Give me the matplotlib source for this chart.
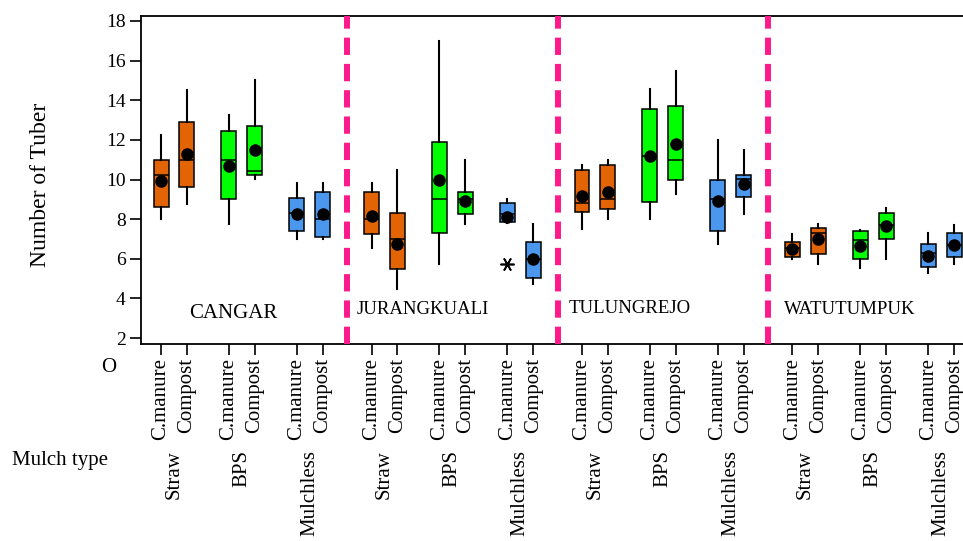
import numpy as np
import matplotlib
matplotlib.use("Agg")
import matplotlib.pyplot as plt

# données (ordre : lieu, paillage, engrais)
lieux = ["CANGAR", "JURANGKUALI", "TULUNGREJO", "WATUTUMPUK"]
paillages = ["Straw", "BPS", "Mulchless"]
engrais = ["C.manure", "Compost"]

whislo = [8.0, 8.76, 7.75, 10.02, 7.02, 7.02,
          6.52, 4.45, 5.76, 7.75, 7.8, 4.75,
          7.51, 8.0, 8.02, 9.26, 6.75, 8.27,
          6.01, 5.76, 5.51, 6.01, 5.26, 5.76]
q1 = [8.6, 9.62, 9.03, 10.21, 7.38, 7.09,
      7.26, 5.46, 7.28, 8.27, 7.87, 5.04,
      8.35, 8.52, 8.87, 9.95, 7.38, 9.11,
      6.1, 6.25, 6.01, 7.02, 5.59, 6.1]
med = [10.22, 10.96, 10.98, 10.44, 8.29, 8.02,
       8.03, 7.02, 9.04, 9.04, 8.27, 6.0,
       8.79, 9.04, 11.2, 10.96, 9.04, 10.05,
       6.52, 7.31, 6.97, 7.7, 6.27, 6.69]
q3 = [10.96, 12.88, 12.46, 12.71, 9.05, 9.38,
      9.38, 8.29, 11.87, 9.38, 8.79, 6.85,
      10.47, 10.71, 13.56, 13.71, 9.95, 10.22,
      6.85, 7.53, 7.38, 8.29, 6.77, 7.28]
whishi = [12.24, 14.52, 13.24, 15.0, 9.82, 9.82,
          9.82, 10.47, 16.99, 10.96, 9.04, 7.78,
          10.73, 10.96, 14.55, 15.49, 11.97, 11.47,
          7.23, 7.78, 7.44, 8.54, 7.28, 7.7]
moyennes = [9.92, 11.27, 10.69, 11.48, 8.27, 8.27,
            8.17, 6.75, 10.0, 8.93, 8.09, 6.0,
            9.18, 9.35, 11.2, 11.77, 8.91, 9.75,
            6.48, 7.0, 6.65, 7.66, 6.15, 6.69]
# un seul point atypique (JURANGKUALI, Mulchless, C.manure)
aberrants = {10: [5.76]}

couleurs = {"Straw": "#E36404", "BPS": "#00FF00", "Mulchless": "#4C97EE"}

# positions des boites
pas_lieu, pas_paillage = 8.15, 2.63
positions, cols, tick_lab = [], [], []
for i, l in enumerate(lieux):
    for j, p in enumerate(paillages):
        for k, e in enumerate(engrais):
            positions.append(i * pas_lieu + j * pas_paillage + k)
            cols.append(couleurs[p])
            tick_lab.append(e)

stats = []
for n in range(len(positions)):
    stats.append({"whislo": whislo[n], "q1": q1[n], "med": med[n], "q3": q3[n],
                  "whishi": whishi[n], "mean": moyennes[n],
                  "fliers": aberrants.get(n, [])})

plt.rcParams["font.family"] = ["Liberation Serif", "DejaVu Serif"]

fig = plt.figure(figsize=(9.63, 5.41), dpi=100)
ax = fig.add_axes([141 / 963, 1 - 344 / 541, (972 - 141) / 963, 328 / 541])

bp = ax.bxp(stats, positions=positions, widths=0.58, patch_artist=True,
            showmeans=True, showcaps=False,
            boxprops=dict(edgecolor="black", linewidth=1.1),
            medianprops=dict(color="black", linewidth=1.1),
            whiskerprops=dict(color="black", linewidth=1.5),
            meanprops=dict(marker="o", markerfacecolor="black", markeredgecolor="black", markersize=8),
            flierprops=dict(marker=(6, 2, 90), markeredgecolor="black", markersize=10, markeredgewidth=1.2))
for patch, c in zip(bp["boxes"], cols):
    patch.set_facecolor(c)

# séparateurs roses entre les lieux
for i in range(1, len(lieux)):
    xs = i * pas_lieu - (pas_lieu - 2 * pas_paillage - 1) / 2
    ax.axvline(xs, color="#FF1A8C", lw=4.3, linestyle=(0, (2.9, 1.5)), zorder=5, clip_on=False)

# noms des lieux
decal_nom = [2.79, 1.98, 1.86, 2.2]
y_nom = [3.25, 3.45, 3.5, 3.45]
taille_nom = [15, 13.5, 13.5, 13.5]
for i, l in enumerate(lieux):
    ax.text(i * pas_lieu + decal_nom[i], y_nom[i], l, ha="center", va="center", fontsize=taille_nom[i])

ax.set_xlim(-0.775, 31.4)
ax.set_ylim(1.7, 18.25)
ax.set_yticks(np.arange(2, 19, 2))
ax.set_xticks(positions)
ax.set_xticklabels(tick_lab, rotation=90, fontsize=15)
ax.tick_params(axis="both", direction="out", length=8, width=1.2, color="black")
ax.tick_params(axis="y", labelsize=14, pad=3)
ax.tick_params(axis="x", pad=2)
for s in ax.spines.values():
    s.set_linewidth(1.3)

# étiquettes de paillage sous les engrais
for i in range(len(lieux)):
    for j, p in enumerate(paillages):
        xc = i * pas_lieu + j * pas_paillage + 0.5
        ax.text(xc, (344 - 450) / 328, p, transform=ax.get_xaxis_transform(),
                rotation=90, ha="center", va="top", fontsize=15)

fig.text(41 / 963, 1 - 185 / 541, "Number of Tuber", rotation=90, ha="center", va="center", fontsize=17)
fig.text(109 / 963, 1 - 367 / 541, "O", ha="center", va="center", fontsize=15)
fig.text(12 / 963, 1 - 460 / 541, "Mulch type", ha="left", va="center", fontsize=15)

fig.savefig("out.png", dpi=100)
